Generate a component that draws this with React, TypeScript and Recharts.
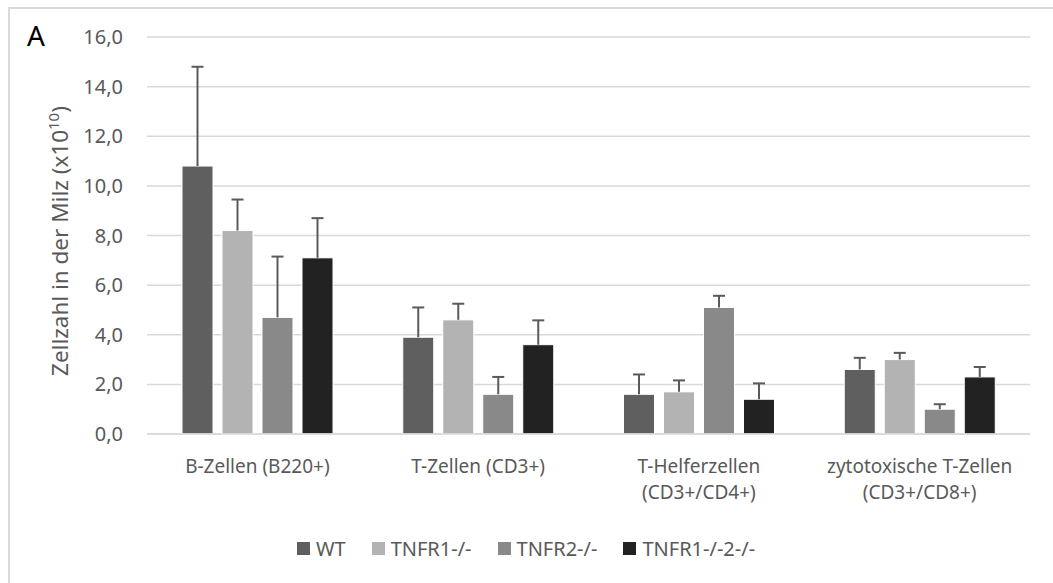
import React from 'react';
import { Bar, BarChart, CartesianGrid, Legend, XAxis, YAxis } from 'recharts';

// Zellzahl in der Milz (x10^10), Mittelwert + SD
const categories = [
  'B-Zellen (B220+)',
  'T-Zellen (CD3+)',
  'T-Helferzellen\n(CD3+/CD4+)',
  'zytotoxische T-Zellen\n(CD3+/CD8+)',
];

const seriesNames = ['WT', 'TNFR1-/-', 'TNFR2-/-', 'TNFR1-/-2-/-'];
const seriesColors = ['#5f5f5f', '#b3b3b3', '#898989', '#222222'];

const wt = [10.8, 3.9, 1.6, 2.6];
const wtErr = [4.0, 1.2, 0.8, 0.47];
const tnfr1 = [8.2, 4.6, 1.7, 3.0];
const tnfr1Err = [1.25, 0.65, 0.46, 0.27];
const tnfr2 = [4.7, 1.6, 5.1, 1.0];
const tnfr2Err = [2.45, 0.7, 0.47, 0.2];
const dko = [7.1, 3.6, 1.4, 2.3];
const dkoErr = [1.6, 0.98, 0.64, 0.4];

const yTicks = [0, 2, 4, 6, 8, 10, 12, 14, 16];

const seriesKeys = ['wt', 'tnfr1', 'tnfr2', 'dko'];

const chartData = categories.map((name, i) => ({
  name,
  wt: wt[i],
  wtErr: wtErr[i],
  tnfr1: tnfr1[i],
  tnfr1Err: tnfr1Err[i],
  tnfr2: tnfr2[i],
  tnfr2Err: tnfr2Err[i],
  dko: dko[i],
  dkoErr: dkoErr[i],
}));

const FONT = '"Noto Sans", "Open Sans", sans-serif';
const TEXT = '#595959';

// bar plus a one-sided (upper) error bar, scaled from the bar's own height
const barWithError = (errKey: string) => (props: any) => {
  const { x, y, width, height, fill, payload, value } = props;
  const v = Array.isArray(value) ? value[1] - value[0] : value;
  const ppu = v ? height / v : 0;
  const top = y - payload[errKey] * ppu;
  const cx = x + width / 2;
  return (
    <g>
      <rect x={x} y={y} width={width} height={height} fill={fill} stroke='#ffffff' strokeWidth={1} />
      <line x1={cx} x2={cx} y1={y} y2={top} stroke='#5a5a5a' strokeWidth={2} />
      <line x1={cx - 6} x2={cx + 6} y1={top} y2={top} stroke='#5a5a5a' strokeWidth={2} />
    </g>
  );
};

// one <text> per line so wrapped labels don't share a box
const CategoryTick = ({ x, y, payload }: any) => {
  const lines = String(payload.value).split('\n');
  return (
    <g>
      {lines.map((line, i) => (
        <text
          key={i}
          x={x}
          y={y + 37 + i * 26}
          textAnchor='middle'
          fill={TEXT}
          fontSize={19}
          fontFamily={FONT}
        >
          {line}
        </text>
      ))}
    </g>
  );
};

const renderLegend = () => (
  <div
    style={{
      display: 'flex',
      justifyContent: 'center',
      alignItems: 'center',
      height: 30,
      paddingLeft: 22,
      fontFamily: FONT,
      fontSize: 20,
      color: TEXT,
    }}
  >
    {seriesNames.map((name, i) => (
      <div key={name} style={{ display: 'flex', alignItems: 'center', marginRight: i < 3 ? 26 : 0 }}>
        <div style={{ width: 13, height: 13, background: seriesColors[i], marginRight: 6 }} />
        <span>{name}</span>
      </div>
    ))}
  </div>
);

export default function App() {
  return (
    <div
      style={{
        position: 'absolute',
        left: 0,
        top: 0,
        width: 1053,
        height: 583,
        overflow: 'hidden',
        background: '#ffffff',
        fontFamily: FONT,
      }}
    >
      {/* chart frame */}
      <div
        style={{
          position: 'absolute',
          left: 8,
          top: 7,
          width: 1100,
          height: 700,
          border: '2px solid #dadada',
          boxSizing: 'border-box',
        }}
      />
      <div style={{ position: 'absolute', left: 27, top: 17, fontSize: 28, color: '#000', lineHeight: '36px' }}>A</div>

      <div style={{ position: 'absolute', left: 0, top: 0 }}>
        <BarChart
          width={1053}
          height={583}
          data={chartData}
          margin={{ top: 37, right: 23, bottom: 20, left: 0 }}
          barSize={31}
          barGap={9}
        >
          <CartesianGrid vertical={false} stroke='#d9d9d9' strokeWidth={1.5} />
          <XAxis
            dataKey='name'
            height={99}
            interval={0}
            axisLine={{ stroke: '#d9d9d9', strokeWidth: 1.5 }}
            tickLine={false}
            tickSize={0}
            tick={<CategoryTick />}
          />
          <YAxis
            width={147}
            domain={[0, 16]}
            ticks={yTicks}
            axisLine={false}
            tickLine={false}
            tickSize={0}
            tickMargin={24}
            tickFormatter={(v: number) => v.toFixed(1).replace('.', ',')}
            tick={{ fill: TEXT, fontSize: 20, fontFamily: FONT }}
            label={{
              content: () => (
                <text
                  transform='translate(68, 241) rotate(-90)'
                  textAnchor='middle'
                  fill={TEXT}
                  fontSize={22.5}
                  fontFamily={FONT}
                >
                  <tspan>Zellzahl in der Milz (x10</tspan>
                  <tspan fontSize={15} dy={-9}>
                    10
                  </tspan>
                  <tspan dy={9}>)</tspan>
                </text>
              ),
            }}
          />
          <Legend verticalAlign='bottom' height={30} content={renderLegend} />
          {seriesKeys.map((key, i) => (
            <Bar
              key={key}
              dataKey={key}
              name={seriesNames[i]}
              fill={seriesColors[i]}
              isAnimationActive={false}
              shape={barWithError(key + 'Err')}
            />
          ))}
        </BarChart>
      </div>
    </div>
  );
}
